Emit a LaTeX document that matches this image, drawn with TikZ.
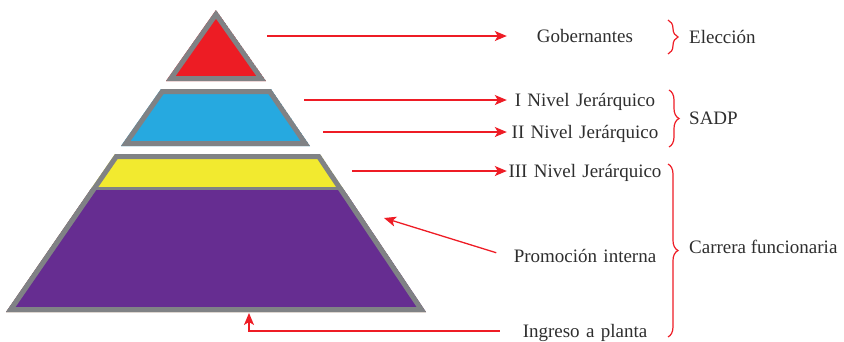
\documentclass[tikz,border=0pt]{standalone}
\usepackage{fontspec}
\setmainfont{Liberation Serif}
\usetikzlibrary{arrows.meta,decorations.pathreplacing}
\definecolor{pgrey}{HTML}{808285}
\definecolor{pred}{HTML}{ED1C24}
\definecolor{pblue}{HTML}{26A9E0}
\definecolor{pyellow}{HTML}{F2EA2F}
\definecolor{ppurple}{HTML}{662D91}
\definecolor{ptext}{HTML}{2E2E2E}
\definecolor{pline}{HTML}{EE1C25}
\tikzset{
  arr/.style={draw=pline, line width=1.3pt, -{Stealth[length=12pt,width=10pt,inset=3pt]}},
  lbl/.style={text=ptext, font=\fontsize{19}{21}\selectfont, inner sep=0pt, text height=15pt, text depth=2pt},
  mid/.style={lbl, text width=156pt, align=center},
  side/.style={lbl, anchor=west},
  br/.style={draw=pline, line width=1.2pt, decorate, decoration={brace, amplitude=10pt}},
  tierborder/.style={draw=pgrey, line width=10pt, line join=miter}
}
\begin{document}
\begin{tikzpicture}[x=1pt,y=-1pt]
\useasboundingbox (0,0) rectangle (844,341);
% top triangle
\begin{scope}
  \clip (216,10) -- (266,81) -- (166,81) -- cycle;
  \fill[pred] (216,10) -- (266,81) -- (166,81) -- cycle;
  \draw[tierborder] (216,10) -- (266,81) -- (166,81) -- cycle;
\end{scope}
% blue trapezoid
\begin{scope}
  \clip (161,89) -- (271,89) -- (310,146) -- (121,146) -- cycle;
  \fill[pblue] (161,89) -- (271,89) -- (310,146) -- (121,146) -- cycle;
  \draw[tierborder] (161,89) -- (271,89) -- (310,146) -- (121,146) -- cycle;
\end{scope}
% yellow + purple trapezoid
\begin{scope}
  \clip (115,154) -- (320,154) -- (426,312) -- (6,312) -- cycle;
  \fill[pyellow] (115,154) -- (320,154) -- (426,312) -- (6,312) -- cycle;
  \fill[ppurple] (0,188.5) rectangle (440,320);
  \draw[pgrey, line width=3.5pt] (0,188.5) -- (440,188.5);
  \draw[tierborder] (115,154) -- (320,154) -- (426,312) -- (6,312) -- cycle;
\end{scope}
% labels
\node[mid] (gob) at (585,36) {Gobernantes};
\node[mid] (n1) at (585,100) {I Nivel Jerárquico};
\node[mid] (n2) at (585,132) {II Nivel Jerárquico};
\node[mid] (n3) at (585,171) {III Nivel Jerárquico};
\node[mid] (prom) at (585,256) {Promoción interna};
\node[mid] (ing) at (585,331) {Ingreso a planta};
\node[side] (elec) at (689,37) {Elección};
\node[side] (sadp) at (689,118) {SADP};
\node[side] (carr) at (689,247) {Carrera funcionaria};
% arrow start points
\coordinate (gobs) at (267,36);
\coordinate (n1s) at (304,100);
\coordinate (n2s) at (323,132);
\coordinate (n3s) at (352,171);
\coordinate (promtip) at (384,218);
\coordinate (ingtip) at (249,313);
\draw[arr] (gobs) -- (gob.west);
\draw[arr] (n1s) -- (n1.west);
\draw[arr] (n2s) -- (n2.west);
\draw[arr] (n3s) -- (n3.west);
\draw[arr, shorten <=11pt] (prom.west) -- (promtip);
\draw[arr, shorten <=7pt] (ing.west) -| (ingtip);
% braces
\coordinate (b1t) at (668,20);
\coordinate (b1b) at (668,54);
\coordinate (b2t) at (669,90);
\coordinate (b2b) at (669,147);
\coordinate (b3t) at (668,164);
\coordinate (b3b) at (668,337);
\draw[br] (b1t) -- (b1b);
\draw[br] (b2t) -- (b2b);
\draw[br] (b3t) -- (b3b);
\end{tikzpicture}
\end{document}
